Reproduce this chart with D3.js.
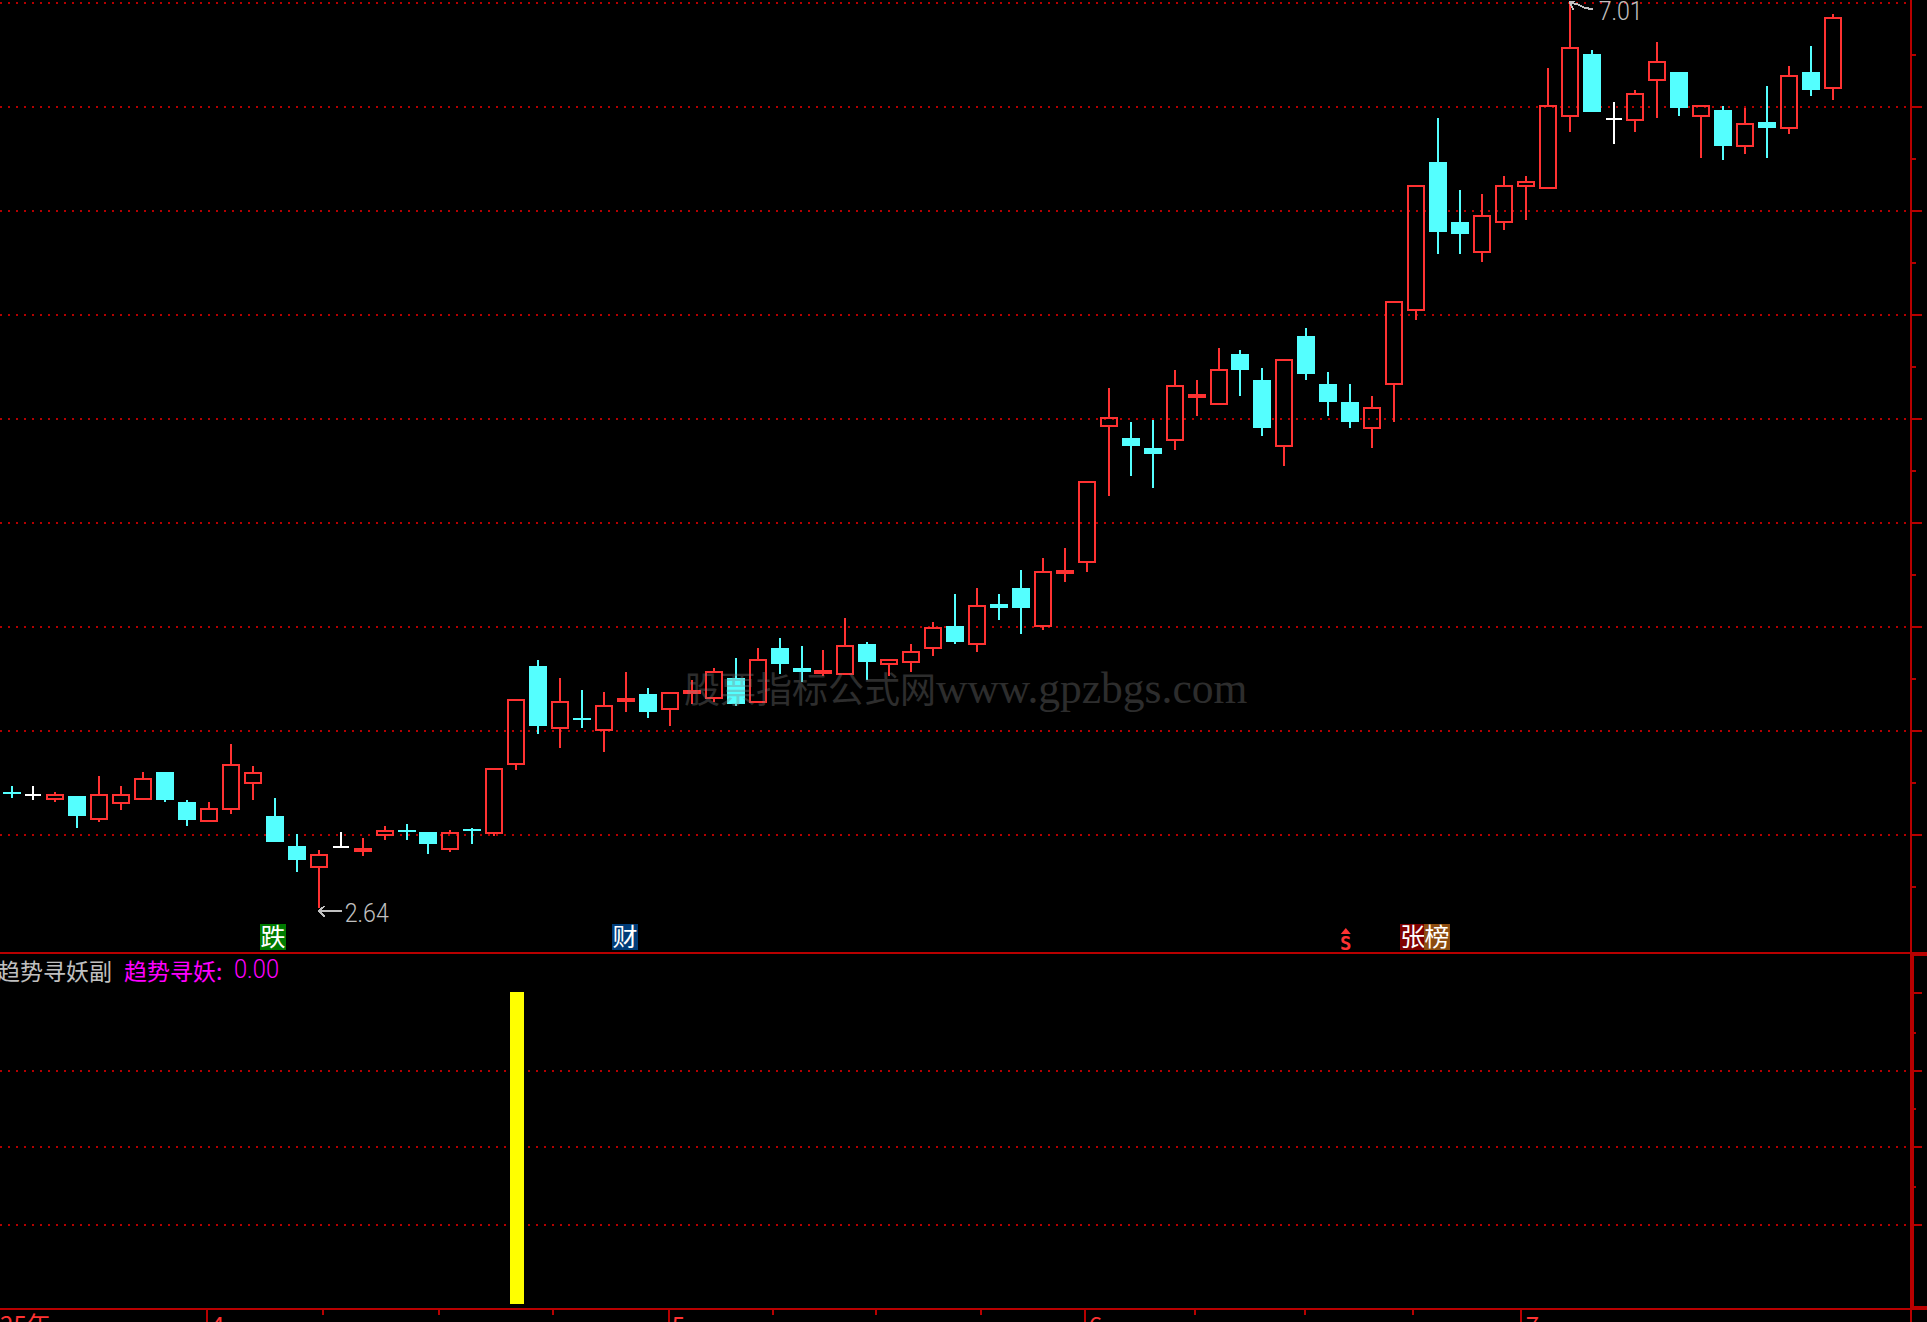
<!DOCTYPE html>
<html>
<head>
<meta charset="utf-8">
<title>趋势寻妖</title>
<script src="https://cdn.jsdelivr.net/npm/d3@7"></script>
<style>
  html, body { margin: 0; padding: 0; background: #000; overflow: hidden; }
  svg { display: block; }
  .cjk { font-family: "Noto Sans CJK SC", sans-serif; }
  .num { font-family: Roboto, sans-serif; font-weight: 300; }
</style>
</head>
<body>
<div id="chart"></div>
<script>
// Daily candles
const opens = [3.199,3.185,3.161,3.180,3.064,3.141,3.161,3.296,3.151,3.055,3.112,3.238,3.083,2.939,2.833,2.934,2.910,2.987,3.016,3.006,2.920,3.021,2.997,3.329,3.806,3.503,3.556,3.493,3.633,3.671,3.594,3.671,3.647,3.749,3.628,3.893,3.797,3.768,3.763,3.912,3.811,3.821,3.888,3.999,3.908,4.105,4.182,3.994,4.250,4.303,4.958,4.905,4.857,4.891,5.098,5.064,5.310,5.185,4.862,5.397,5.166,5.079,4.949,5.161,5.518,6.236,5.947,5.797,5.942,6.115,6.106,6.453,6.756,6.443,6.433,6.626,6.670,6.453,6.486,6.308,6.429,6.395,6.670,6.588];
const highs = [3.228,3.228,3.199,3.180,3.276,3.228,3.296,3.296,3.161,3.151,3.430,3.324,3.170,2.997,2.920,3.006,2.977,3.035,3.045,3.006,3.016,3.026,3.315,3.647,3.835,3.749,3.691,3.681,3.778,3.700,3.681,3.739,3.797,3.845,3.893,3.941,3.903,3.884,4.038,3.922,3.840,3.912,4.019,4.153,4.182,4.153,4.269,4.327,4.375,4.698,5.146,4.983,4.992,5.233,5.185,5.339,5.330,5.243,5.286,5.436,5.224,5.166,5.108,5.566,6.125,6.448,6.101,6.081,6.168,6.168,6.689,7.010,6.776,6.525,6.583,6.814,6.670,6.510,6.506,6.496,6.602,6.698,6.795,6.949];
const lows = [3.170,3.161,3.151,3.026,3.055,3.112,3.161,3.151,3.035,3.055,3.093,3.161,2.958,2.814,2.640,2.929,2.891,2.968,2.968,2.900,2.910,2.948,2.987,3.305,3.479,3.411,3.508,3.392,3.585,3.556,3.517,3.623,3.633,3.614,3.628,3.768,3.729,3.758,3.763,3.739,3.758,3.778,3.855,3.912,3.874,4.028,3.961,3.980,4.211,4.260,4.626,4.722,4.664,4.848,5.011,5.064,5.108,4.915,4.770,5.185,5.011,4.954,4.857,4.983,5.474,5.792,5.792,5.754,5.908,5.956,6.106,6.380,6.477,6.322,6.380,6.448,6.457,6.255,6.245,6.274,6.255,6.371,6.554,6.535];
const closes = [3.189,3.185,3.189,3.083,3.189,3.189,3.267,3.161,3.064,3.122,3.334,3.296,2.958,2.871,2.900,2.934,2.929,3.016,3.006,2.948,3.006,3.011,3.315,3.647,3.517,3.638,3.546,3.618,3.652,3.585,3.681,3.691,3.782,3.623,3.840,3.816,3.778,3.787,3.908,3.826,3.840,3.879,3.994,3.922,4.100,4.086,4.086,4.264,4.269,4.698,5.007,4.867,4.828,5.161,5.117,5.238,5.233,4.954,5.286,5.214,5.079,4.983,5.055,5.566,6.125,5.898,5.889,5.980,6.125,6.144,6.510,6.790,6.477,6.443,6.568,6.723,6.496,6.510,6.313,6.424,6.400,6.655,6.583,6.935];

// Sub chart indicator: one signal day only
const signalDay = 23;
const signalValue = 1;

// Axis month labels and ticks, in bar positions
const monthLabels = ["25年", "4", "5", "6", "7"];
const monthLabelPos = [-0.52, 9.09, 30.09, 49.09, 69.0];
const monthTickPos = [8.91, 29.95, 48.91, 68.77];
const minorTickPos = [14.19, 19.48, 24.67, 34.69, 39.39, 44.17, 53.92, 58.93, 63.85];

// Event tags under the candles
const tagLabels = ["跌", "财", "张", "榜"];
const tagPos = [11.32, 27.36, 63.26, 64.36];
const tagColors = ["#007a00", "#003c78", "#800000", "#8c4c10"];

const width = 1927;
const height = 1322;
const chartRight = 1908;

const colors = {
  up: "#ff3232",
  down: "#54ffff",
  flat: "#ffffff",
  frame: "#b80000",
  dots: "#b40000",
  label: "#c0c0c0",
  magenta: "#ff00ff"
};

const svg = d3.select("#chart")
  .append("svg")
    .attr("width", width)
    .attr("height", height)
    .attr("viewBox", `0 0 ${width} ${height}`);


/****************************/
/*    Declare the scales    */
/****************************/
const candles = opens.map((o, i) => ({ i, o, h: highs[i], l: lows[i], c: closes[i] }));

const xScale = d3.scaleLinear()
  .domain([0, candles.length - 1])
  .range([11.5, 1833]);

const yScale = d3.scaleLinear()
  .domain([d3.min(lows), d3.max(highs)])
  .range([908, 1.4]);

const subScale = d3.scaleLinear()
  .domain([0, signalValue])
  .range([1304, 992]);

// Grid rows are evenly spaced, every second step of the axis ticks
const mainRow = d3.scaleLinear().domain([0, 16]).range([3, 835]);
const subRows = [1071, 1147, 1225];


/**************************/
/*    Grid and the frame  */
/**************************/
const grid = svg.append("g").attr("shape-rendering", "crispEdges");

const gridRows = [...d3.range(0, 17, 2).map(d => mainRow(d)), ...subRows];
grid.selectAll("line")
  .data(gridRows)
  .join("line")
    .attr("x1", 0)
    .attr("x2", chartRight)
    .attr("y1", d => d)
    .attr("y2", d => d)
    .attr("stroke", colors.dots)
    .attr("stroke-width", 2)
    .attr("stroke-dasharray", "2 6");

const frame = svg.append("g")
  .attr("fill", colors.frame)
  .attr("shape-rendering", "crispEdges");

// Horizontal separators and the right hand axis
frame.append("rect").attr("x", 0).attr("y", 952).attr("width", width).attr("height", 2);
frame.append("rect").attr("x", 0).attr("y", 1308).attr("width", width).attr("height", 2);
frame.append("rect").attr("x", 1914).attr("y", 952).attr("width", width - 1914).attr("height", 4);
frame.append("rect").attr("x", 1914).attr("y", 1306).attr("width", width - 1914).attr("height", 4);
frame.append("rect").attr("x", 1910).attr("y", 0).attr("width", 2).attr("height", height);
frame.append("rect").attr("x", 1910).attr("y", 952).attr("width", 4).attr("height", 358);

// Ticks on the right axis
const mainTicks = d3.range(1, 18).map(d => ({ y: mainRow(d), major: d % 2 === 0 }));
const subTicks = [993, 1033, 1071, 1109, 1147, 1187, 1225]
  .map((y, i) => ({ y, major: i % 2 === 0 }));
frame.selectAll(".axis-tick")
  .data([...mainTicks, ...subTicks])
  .join("rect")
    .attr("class", "axis-tick")
    .attr("x", 1912)
    .attr("y", d => d.y - 1)
    .attr("width", d => d.major ? 10 : 4)
    .attr("height", 2);

// Ticks on the date axis
frame.selectAll(".month-tick")
  .data(monthTickPos)
  .join("rect")
    .attr("class", "month-tick")
    .attr("x", d => Math.round(xScale(d)) - 1)
    .attr("y", 1310)
    .attr("width", 2)
    .attr("height", 12);
frame.selectAll(".minor-tick")
  .data(minorTickPos)
  .join("rect")
    .attr("class", "minor-tick")
    .attr("x", d => Math.round(xScale(d)) - 1)
    .attr("y", 1310)
    .attr("width", 2)
    .attr("height", 5);

svg.selectAll(".month-label")
  .data(monthLabels)
  .join("text")
    .attr("class", "month-label cjk")
    .attr("x", (d, i) => xScale(monthLabelPos[i]))
    .attr("y", 1334)
    .attr("fill", colors.up)
    .attr("font-size", 24)
    .text(d => d);


/****************************/
/*    Append the candles    */
/****************************/
const candleColor = d => d.c > d.o ? colors.up : d.c < d.o ? colors.down : colors.flat;
const bodyTop = d => Math.round(yScale(Math.max(d.o, d.c)));
const bodyBottom = d => Math.round(yScale(Math.min(d.o, d.c)));
const barX = d => Math.round(xScale(d.i));

const candleGroups = svg.append("g")
  .attr("shape-rendering", "crispEdges")
  .selectAll(".candle")
  .data(candles)
  .join("g")
    .attr("class", "candle");

// Wicks stop at the body so the grid stays visible in hollow candles
candleGroups.append("rect")
  .attr("x", d => barX(d) - 1)
  .attr("y", d => Math.round(yScale(d.h)))
  .attr("width", 2)
  .attr("height", d => Math.max(0, bodyTop(d) - Math.round(yScale(d.h))))
  .attr("fill", candleColor);
candleGroups.append("rect")
  .attr("x", d => barX(d) - 1)
  .attr("y", bodyBottom)
  .attr("width", 2)
  .attr("height", d => Math.max(0, Math.round(yScale(d.l)) - bodyBottom(d)))
  .attr("fill", candleColor);

// Flat days are a plain dash, falling days filled, rising days hollow
candleGroups.filter(d => d.c === d.o).append("rect")
  .attr("x", d => barX(d) - 8)
  .attr("y", d => bodyTop(d) - 1)
  .attr("width", 16)
  .attr("height", 2)
  .attr("fill", colors.flat);
candleGroups.filter(d => d.c < d.o).append("rect")
  .attr("x", d => barX(d) - 9)
  .attr("y", bodyTop)
  .attr("width", 18)
  .attr("height", d => bodyBottom(d) - bodyTop(d))
  .attr("fill", colors.down);
candleGroups.filter(d => d.c > d.o).append("rect")
  .attr("x", d => barX(d) - 8)
  .attr("y", d => bodyTop(d) + 1)
  .attr("width", 16)
  .attr("height", d => bodyBottom(d) - bodyTop(d) - 2)
  .attr("fill", "none")
  .attr("stroke", colors.up)
  .attr("stroke-width", 2);


/********************************/
/*    High and low annotation   */
/********************************/
const lowest = candles.find(d => d.l === d3.min(lows));
const highest = candles.find(d => d.h === d3.max(highs));

const annotation = svg.append("g")
  .attr("stroke", colors.label)
  .attr("fill", "none")
  .attr("stroke-width", 2)
  .attr("shape-rendering", "crispEdges");

const lowX = xScale(lowest.i);
const lowY = yScale(lowest.l) + 3;
annotation.append("path")
  .attr("d", d3.line()([[lowX, lowY], [lowX + 23, lowY]]));
annotation.append("path")
  .attr("d", d3.line()([[lowX + 6, lowY - 5], [lowX, lowY], [lowX + 6, lowY + 6]]));

const highX = xScale(highest.i);
const highY = yScale(highest.h);
annotation.append("path")
  .attr("d", d3.line()([[highX, highY + 1], [highX + 8, highY + 3], [highX + 14, highY + 6], [highX + 23, highY + 8]]));
annotation.append("path")
  .attr("d", d3.line()([[highX + 5, highY], [highX, highY + 1], [highX + 4, highY + 9]]));

const priceLabels = [
  { text: d3.format(".2f")(lowest.l), x: lowX + 26, y: lowY + 11 },
  { text: d3.format(".2f")(highest.h), x: highX + 29, y: highY + 18.5 }
];
svg.selectAll(".price-label")
  .data(priceLabels)
  .join("text")
    .attr("class", "price-label num")
    .attr("x", d => d.x)
    .attr("y", d => d.y)
    .attr("fill", colors.label)
    .attr("font-size", 25)
    .attr("textLength", 44)
    .attr("lengthAdjust", "spacingAndGlyphs")
    .text(d => d.text);


/*************************/
/*    Event tags         */
/*************************/
const tags = svg.selectAll(".tag")
  .data(tagLabels)
  .join("g")
    .attr("class", "tag");
tags.append("rect")
  .attr("x", (d, i) => xScale(tagPos[i]))
  .attr("y", 924)
  .attr("width", 26)
  .attr("height", 26)
  .attr("fill", (d, i) => tagColors[i])
  .attr("shape-rendering", "crispEdges");
tags.append("text")
  .attr("class", "cjk")
  .attr("x", (d, i) => xScale(tagPos[i]) + 13)
  .attr("y", 946)
  .attr("text-anchor", "middle")
  .attr("font-size", 25)
  .attr("fill", "#fff")
  .text(d => d);

// The small S marker with a caret on top
const sX = xScale(60.8);
svg.append("path")
  .attr("d", d3.line()([[sX - 5, 934], [sX, 928], [sX + 5, 934]]))
  .attr("fill", colors.up);
svg.append("text")
  .attr("x", sX)
  .attr("y", 950)
  .attr("text-anchor", "middle")
  .attr("font-family", "'DejaVu Sans Mono', monospace")
  .attr("font-size", 19)
  .attr("font-weight", 700)
  .attr("fill", colors.up)
  .text("S");


/*****************************/
/*    Sub chart              */
/*****************************/
svg.append("rect")
  .attr("x", Math.round(xScale(signalDay)) - 6)
  .attr("y", subScale(signalValue))
  .attr("width", 14)
  .attr("height", subScale(0) - subScale(signalValue))
  .attr("fill", "#ffff00")
  .attr("stroke", "#000")
  .attr("stroke-width", 8)
  .attr("paint-order", "stroke")
  .attr("shape-rendering", "crispEdges");

svg.append("text")
  .attr("class", "cjk")
  .attr("x", -3)
  .attr("y", 980)
  .attr("font-size", 23)
  .attr("fill", colors.label)
  .text("趋势寻妖副");
svg.append("text")
  .attr("class", "cjk")
  .attr("x", 124)
  .attr("y", 980)
  .attr("font-size", 23)
  .attr("fill", colors.magenta)
  .text("趋势寻妖:");
svg.append("text")
  .attr("class", "num")
  .attr("x", 234)
  .attr("y", 978)
  .attr("font-size", 25)
  .attr("textLength", 45)
  .attr("lengthAdjust", "spacingAndGlyphs")
  .attr("fill", colors.magenta)
  .text("0.00");


/*****************************/
/*    Watermark              */
/*****************************/
const watermark = svg.append("text")
  .attr("x", 684)
  .attr("y", 703)
  .attr("font-family", "'Liberation Serif', 'Noto Sans CJK SC', serif")
  .attr("fill", "#808080")
  .attr("opacity", 0.35);
watermark.append("tspan")
  .attr("font-size", 36)
  .text("股票指标公式网");
watermark.append("tspan")
  .attr("font-size", 43.5)
  .text("www.gpzbgs.com");
</script>
</body>
</html>
